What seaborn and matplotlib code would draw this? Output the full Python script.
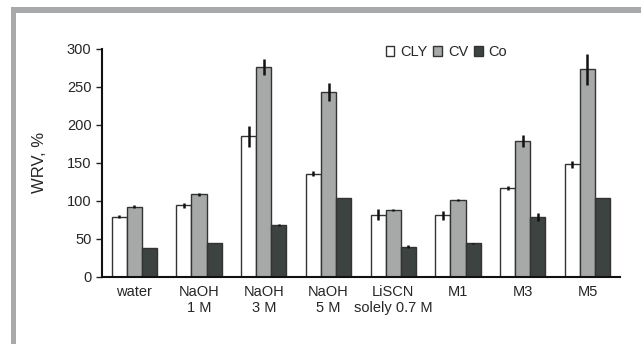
import pandas as pd
import seaborn as sns
import matplotlib.pyplot as plt
import numpy as np
from matplotlib.patches import Rectangle

# Data
groups = ['water', 'NaOH\n1 M', 'NaOH\n3 M', 'NaOH\n5 M', 'LiSCN\nsolely 0.7 M', 'M1', 'M3', 'M5']
series = ['CLY', 'CV', 'Co']
cly = [79, 94, 185, 136, 82, 81, 117, 148]
cv = [92, 109, 276, 243, 88, 101, 179, 273]
co = [38, 45, 68, 104, 40, 44, 79, 104]
cly_err = [2, 3, 14, 3, 7, 6, 3, 5]
cv_err = [2, 2, 11, 12, 1.5, 1, 7.5, 20]
co_err = [0, 0, 1, 0, 2, 1, 5, 0]

colors = ['#ffffff', '#a7a9a8', '#3b4442']

df = pd.DataFrame({
    'group': groups * 3,
    'series': sum([[s] * len(groups) for s in series], []),
    'value': cly + cv + co,
})
errs = cly_err + cv_err + co_err

sns.set_style('white')
plt.rcParams['font.family'] = ['Liberation Sans', 'DejaVu Sans']

fig = plt.figure(figsize=(6.41, 3.44), dpi=100)
ax = fig.add_axes([0.159, 0.195, 0.808, 0.663])

sns.barplot(data=df, x='group', y='value', hue='series', order=groups,
            hue_order=series, palette=colors, width=0.7, errorbar=None,
            edgecolor='#333333', linewidth=1, ax=ax)

# error bars from the drawn bars
bars = [p for p in ax.patches if p.get_height() > 0][:len(errs)]
xs = [p.get_x() + p.get_width() / 2 for p in bars]
hs = [p.get_height() for p in bars]
ax.errorbar(xs, hs, yerr=errs, fmt='none', ecolor='#111111', elinewidth=1.8, capsize=0)

ax.set_xlim(-0.5, len(groups) - 0.5)
ax.set_ylim(0, 300)
ax.set_yticks(np.arange(0, 301, 50))
ax.set_xlabel('')
ax.set_ylabel('WRV, %', fontsize=12, labelpad=14)

ax.tick_params(axis='x', which='major', length=0, pad=6, labelsize=10.5)
ax.set_xticks(np.arange(-0.5, len(groups) - 0.4, 1), minor=True)
ax.tick_params(axis='x', which='minor', length=4, width=1, direction='out', color='#222222')
ax.tick_params(axis='y', length=4, width=1, direction='out', labelsize=10.5, left=True, color='#222222')

for s in ['top', 'right']:
    ax.spines[s].set_visible(False)
for s in ['left', 'bottom']:
    ax.spines[s].set_color('#111111')
    ax.spines[s].set_linewidth(1.5)

leg = ax.legend(loc='center', bbox_to_anchor=(0.665, 0.985), ncol=3, frameon=False,
                fontsize=10.5, handlelength=0.6, handleheight=0.6, handletextpad=0.4,
                columnspacing=0.4)

# gray frame on the top and left
fig.add_artist(Rectangle((11 / 641, 0), 5 / 641, 1 - 7 / 344, transform=fig.transFigure,
                         color='#a7a9ab', lw=0))
fig.add_artist(Rectangle((11 / 641, 1 - 13 / 344), 1 - 11 / 641, 6 / 344, transform=fig.transFigure,
                         color='#a7a9ab', lw=0))

fig.savefig('out.png', dpi=100)
